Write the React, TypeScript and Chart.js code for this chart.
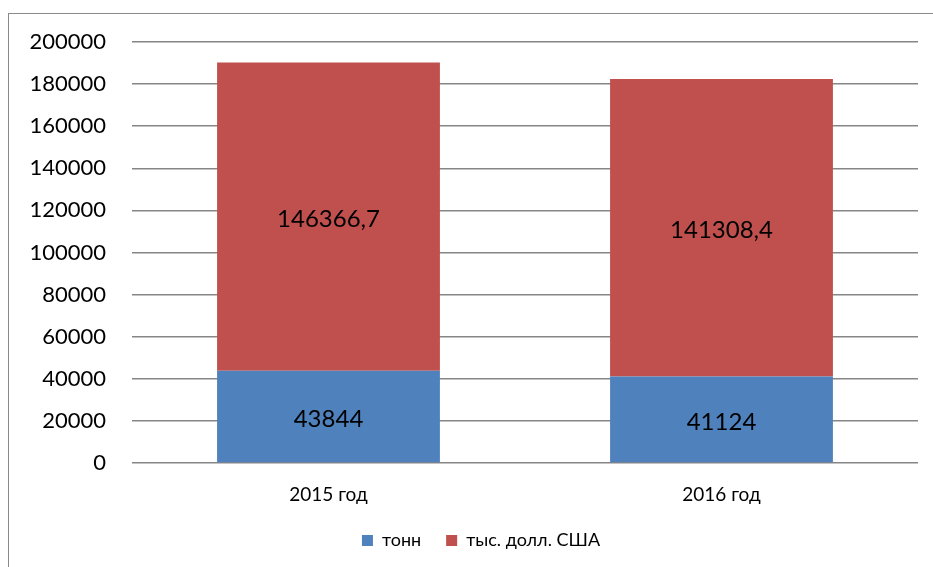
import React, { useEffect, useRef } from "react";
import { Chart, registerables } from "chart.js";

Chart.register(...registerables);

const categories = ["2015 год", "2016 год"];
const tonnes = [43844, 41124];
const thousandUsd = [146366.7, 141308.4];
const seriesNames = ["тонн", "тыс. долл. США"];
const yTicks = [0, 20000, 40000, 60000, 80000, 100000, 120000, 140000, 160000, 180000, 200000];

const FONT = "Lato, 'Open Sans', sans-serif";

const valueLabels = {
  id: "valueLabels",
  afterDatasetsDraw(chart: any) {
    const ctx = chart.ctx;
    ctx.save();
    ctx.font = `24px ${FONT}`;
    ctx.fillStyle = "#000";
    ctx.textAlign = "center";
    ctx.textBaseline = "middle";
    chart.data.datasets.forEach((ds: any, di: number) => {
      const meta = chart.getDatasetMeta(di);
      meta.data.forEach((el: any, i: number) => {
        const p = el.getProps(["x", "y", "base"], true);
        const v = ds.data[i];
        ctx.fillText(String(v).replace(".", ","), p.x, (p.y + p.base) / 2 + 3);
      });
    });
    ctx.restore();
  },
};

const frame = {
  id: "frame",
  beforeDraw(chart: any) {
    const ctx = chart.ctx;
    ctx.save();
    ctx.strokeStyle = "#8a8a8a";
    ctx.lineWidth = 1;
    ctx.strokeRect(8.5, 13.5, chart.width + 20, chart.height + 20);
    ctx.restore();
  },
};

// centre the legend under the whole chart frame rather than the canvas
const legendShift = {
  id: "legendShift",
  afterLayout(chart: any) {
    if (chart.legend) {
      chart.legend.left = 44;
    }
  },
};

export default function App() {
  const ref = useRef<HTMLCanvasElement>(null);
  useEffect(() => {
    const chart = new Chart(ref.current!, {
      type: "bar",
      data: {
        labels: categories,
        datasets: [
          { label: seriesNames[0], data: tonnes, backgroundColor: "#4F81BD", categoryPercentage: 0.567, barPercentage: 1 },
          { label: seriesNames[1], data: thousandUsd, backgroundColor: "#C0504D", categoryPercentage: 0.567, barPercentage: 1 },
        ],
      },
      options: {
        animation: false,
        responsive: false,
        devicePixelRatio: 1,
        layout: { padding: { top: 42, right: 15, bottom: 7.5, left: 0 } },
        plugins: {
          tooltip: { enabled: false },
          legend: {
            position: "bottom",
            labels: {
              font: { family: FONT, size: 18 },
              color: "#000",
              boxWidth: 11,
              boxHeight: 11,
              padding: 25,
            },
          },
        },
        scales: {
          x: {
            stacked: true,
            afterFit(scale: any) {
              scale.height = 43.5;
            },
            grid: { display: false },
            border: { display: false },
            ticks: { font: { family: FONT, size: 19 }, color: "#000", padding: 12 },
          },
          y: {
            stacked: true,
            min: 0,
            max: 200000,
            afterFit(scale: any) {
              scale.width = 132;
            },
            afterBuildTicks(scale: any) {
              scale.ticks = yTicks.map((v) => ({ value: v }));
            },
            grid: { color: "#868686", lineWidth: 1.5, drawTicks: false },
            border: { display: false },
            ticks: {
              font: { family: FONT, size: 22 },
              color: "#000",
              padding: 26,
              callback: (v: any) => String(v),
            },
          },
        },
      },
      plugins: [frame, legendShift, valueLabels],
    });
    return () => chart.destroy();
  }, []);
  return (
    <div style={{ position: "fixed", left: 0, top: 0, width: 933, height: 567, background: "#fff" }}>
      <canvas ref={ref} width={933} height={567} style={{ display: "block" }} />
    </div>
  );
}
